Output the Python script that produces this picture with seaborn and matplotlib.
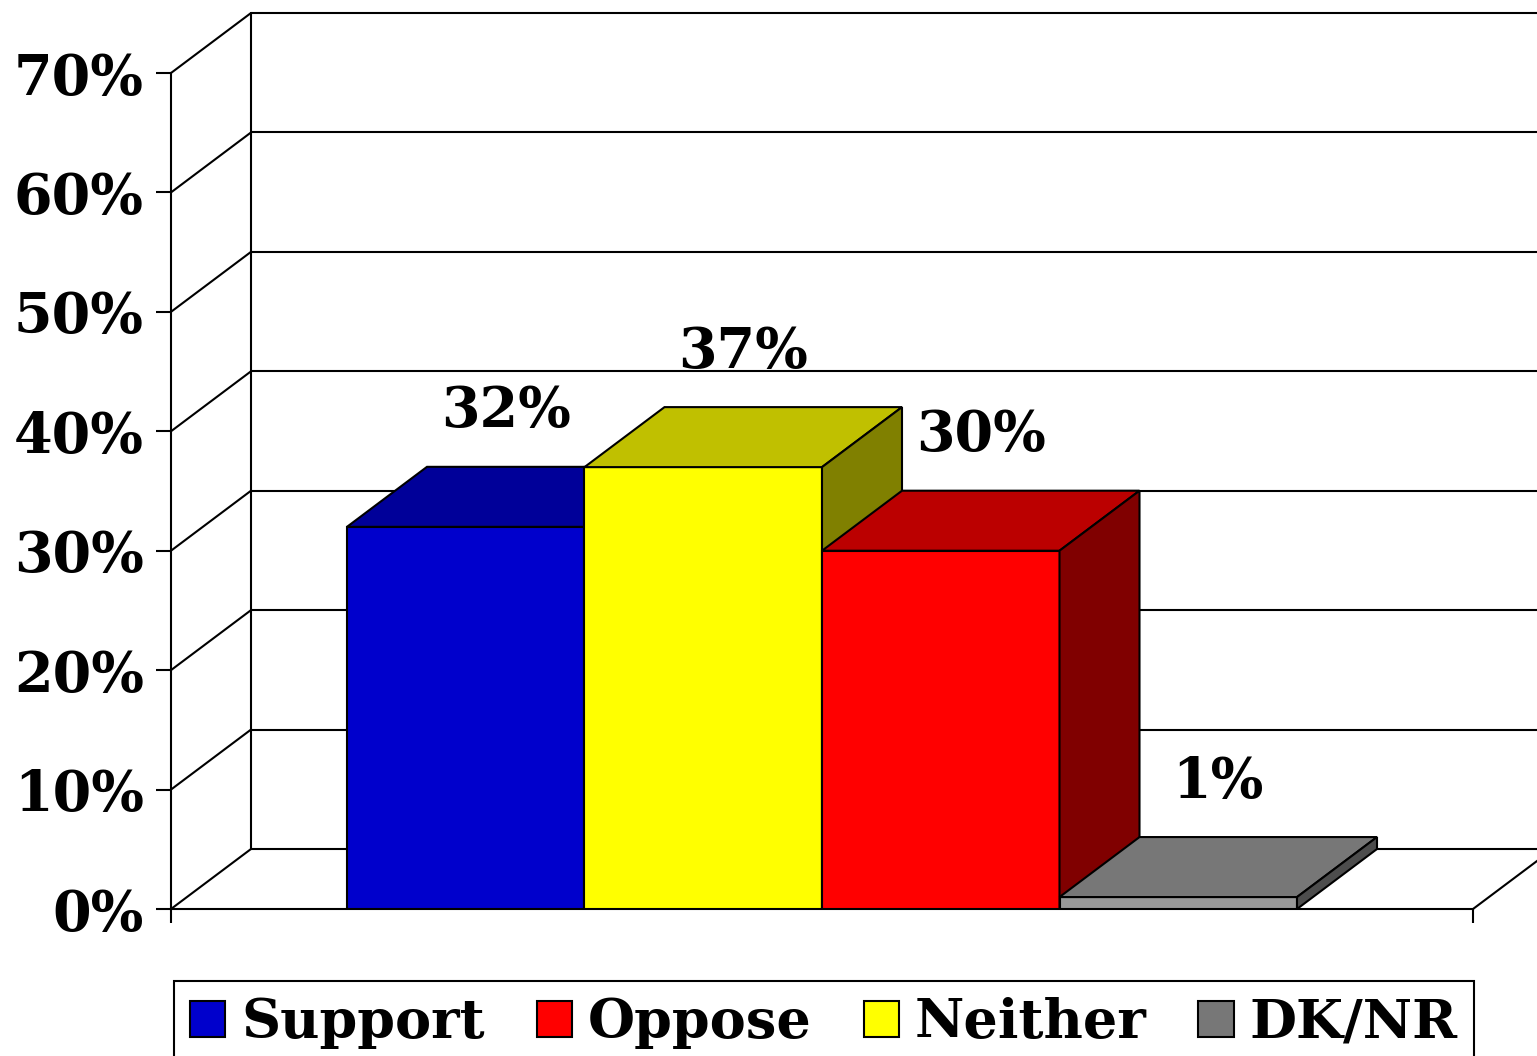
import numpy as np
import pandas as pd
import matplotlib
matplotlib.use("Agg")
import matplotlib.pyplot as plt
import matplotlib.patches as mpatches
import seaborn as sns

# Datos del gráfico
categorias = ["Support", "Neither", "Oppose", "DK/NR"]
valores = [32, 37, 30, 1]
color_frente = ["#0000CC", "#FFFF00", "#FF0000", "#999999"]
color_techo = ["#000099", "#C0C000", "#BB0000", "#777777"]
color_lado = ["#000066", "#808000", "#800000", "#4D4D4D"]
orden_leyenda = ["Support", "Oppose", "Neither", "DK/NR"]
color_leyenda = ["#0000CC", "#FF0000", "#FFFF00", "#777777"]
yticks = [0, 10, 20, 30, 40, 50, 60, 70]

sns.set_theme(style="white")
plt.rcParams["font.family"] = ["DejaVu Serif"]
plt.rcParams["font.weight"] = "bold"
for k in ["text.color", "axes.labelcolor", "xtick.color", "ytick.color"]:
    plt.rcParams[k] = "black"

W, H = 1537, 1056
fig = plt.figure(figsize=(W / 100, H / 100), dpi=100)
ax = fig.add_axes([171 / W, (H - 909) / H, (1473 - 171) / W, (909 - 73) / H])

df = pd.DataFrame({"cat": categorias, "val": valores})
sns.barplot(data=df, x="cat", y="val", hue="cat", palette=color_frente,
            width=1.0, edgecolor="black", linewidth=1.5, legend=False, ax=ax,
            saturation=1)

x0, x1 = -1.241, 4.241
ax.set_xlim(x0, x1)
ax.set_ylim(0, 70)
# profundidad del efecto 3D, en unidades de datos
DX = 80 / 237.5
DY = 60 / (836 / 70)

lw = 1.5
# pared del fondo y pared lateral
for v in yticks:
    ax.plot([x0 + DX, 5.0], [v + DY, v + DY], color="black", lw=lw,
            clip_on=False, zorder=1)
    ax.plot([x0, x0 + DX], [v, v + DY], color="black", lw=lw,
            clip_on=False, zorder=1)
ax.plot([x0 + DX, x0 + DX], [DY, 70 + DY], color="black", lw=lw,
        clip_on=False, zorder=1)
ax.plot([x1, x1 + DX], [0, DY], color="black", lw=lw, clip_on=False, zorder=1)

# caras superior y lateral de cada barra
for i, p in enumerate(ax.patches):
    bx, bw, bh = p.get_x(), p.get_width(), p.get_height()
    p.set_zorder(3 + i)
    top = [(bx, bh), (bx + DX, bh + DY), (bx + bw + DX, bh + DY), (bx + bw, bh)]
    side = [(bx + bw, 0), (bx + bw, bh), (bx + bw + DX, bh + DY), (bx + bw + DX, DY)]
    ax.add_patch(mpatches.Polygon(top, closed=True, fc=color_techo[i], ec="black",
                                  lw=lw, zorder=3 + i, clip_on=False))
    ax.add_patch(mpatches.Polygon(side, closed=True, fc=color_lado[i], ec="black",
                                  lw=lw, zorder=3 + i, clip_on=False))
    ax.text(bx + bw / 2 + DX / 2, bh + DY + 4.6, f"{valores[i]}%", ha="center",
            va="center", fontsize=40, fontweight="bold", zorder=10)

ax.set_xlabel("")
ax.set_ylabel("")
ax.set_yticks(yticks)
ax.set_yticklabels([f"{v}%" for v in yticks])
ax.set_xticks([x0, x1])
ax.set_xticklabels(["", ""])
ax.tick_params(axis="y", direction="out", length=10.5, width=lw, color="black",
               labelsize=40, pad=9, left=True)
ax.tick_params(axis="x", direction="out", length=10, width=lw, color="black",
               bottom=True)
for lab in ax.get_yticklabels():
    lab.set_fontweight("bold")
for s in ["top", "right"]:
    ax.spines[s].set_visible(False)
for s in ["left", "bottom"]:
    ax.spines[s].set_color("black")
    ax.spines[s].set_linewidth(lw)
ax.patch.set_alpha(0)

handles = [mpatches.Patch(fc=col, ec="black", lw=lw, label=c)
           for c, col in zip(orden_leyenda, color_leyenda)]
leg = fig.legend(handles=handles, loc="upper left", ncol=4,
                 bbox_to_anchor=(174 / W, 1 - 981 / H), borderaxespad=0,
                 frameon=True, fancybox=False, edgecolor="black", framealpha=1,
                 prop={"size": 39, "weight": "bold"}, handlelength=0.65,
                 handleheight=0.65, handletextpad=0.3, columnspacing=0.95,
                 borderpad=0.3)
leg.get_frame().set_linewidth(lw)

fig.savefig("out.png", dpi=100)
